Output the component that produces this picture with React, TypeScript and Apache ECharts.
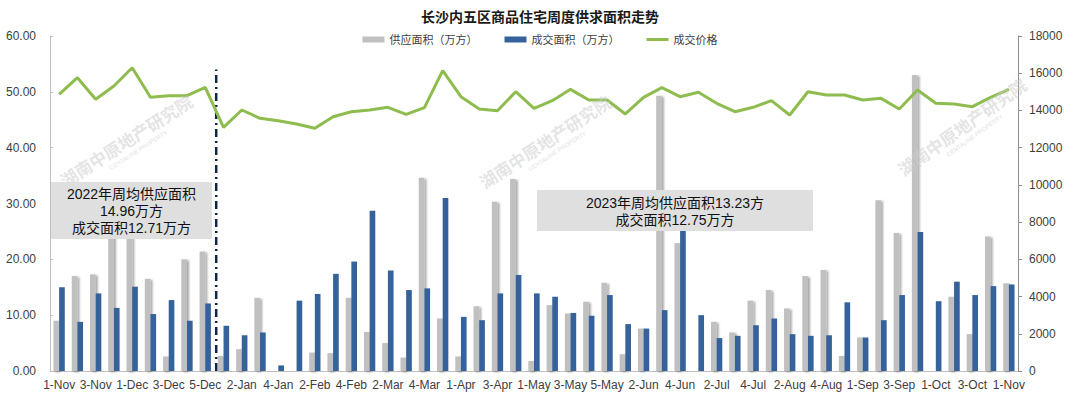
import React, { useEffect, useRef } from "react";
import * as echarts from "echarts";

const categories = [
  "1-Nov", "2-Nov", "3-Nov", "4-Nov", "1-Dec", "2-Dec", "3-Dec", "4-Dec", "5-Dec",
  "1-Jan", "2-Jan", "3-Jan", "4-Jan", "1-Feb", "2-Feb", "3-Feb", "4-Feb",
  "1-Mar", "2-Mar", "3-Mar", "4-Mar", "5-Mar", "1-Apr", "2-Apr", "3-Apr", "4-Apr",
  "1-May", "2-May", "3-May", "4-May", "5-May", "1-Jun", "2-Jun", "3-Jun", "4-Jun",
  "1-Jul", "2-Jul", "3-Jul", "4-Jul", "1-Aug", "2-Aug", "3-Aug", "4-Aug", "5-Aug",
  "1-Sep", "2-Sep", "3-Sep", "4-Sep", "1-Oct", "2-Oct", "3-Oct", "4-Oct", "1-Nov",
];

const supplyArea = [
  9.0, 17.0, 17.3, 27.5, 26.0, 16.5, 2.6, 20.0, 21.4,
  2.7, 3.9, 13.1, 0, 0, 3.3, 3.2, 13.1,
  7.0, 5.0, 2.4, 34.6, 9.4, 2.6, 11.6, 30.3, 34.4,
  1.8, 11.8, 10.3, 12.4, 15.8, 3.0, 7.6, 49.3, 22.9,
  0, 8.8, 6.9, 12.6, 14.5, 11.2, 17.0, 18.1, 2.7,
  6.0, 30.6, 24.7, 53.0, 0, 13.3, 6.6, 24.1, 15.7,
];

const dealArea = [
  15.0, 8.8, 13.9, 11.3, 15.1, 10.2, 12.7, 9.0, 12.1,
  8.1, 6.4, 6.9, 1.0, 12.6, 13.8, 17.4, 19.6,
  28.7, 18.0, 14.5, 14.8, 31.0, 9.7, 9.1, 13.9, 17.2,
  13.9, 13.3, 10.4, 9.9, 13.6, 8.4, 7.6, 10.9, 26.0,
  10.0, 5.9, 6.3, 8.2, 9.4, 6.6, 6.3, 6.4, 12.3,
  6.0, 9.1, 13.6, 24.9, 12.5, 16.0, 13.6, 15.2, 15.5,
];

const dealPrice = [
  14866, 15760, 14597, 15313, 16297, 14705, 14793, 14793, 15243,
  13094, 14024, 13578, 13449, 13271, 13040, 13664, 13932,
  14024, 14168, 13792, 14148, 16135, 14740, 14077, 13987, 15007,
  14113, 14525, 15134, 14561, 14561, 13810, 14705, 15224, 14740,
  14974, 14384, 13932, 14168, 14525, 13755, 15007, 14829, 14829,
  14561, 14650, 14077, 15098, 14384, 14346, 14201, 14705, 15134,
];

// Year divider between 2022 and 2023 weeks (position on a hidden value axis)
const dividerX = 9.1;
const dividerTop = 54;

const leftTicks = [0, 60, 10];
const rightTicks = [0, 18000, 2000];

const title = "长沙内五区商品住宅周度供求面积走势";
const seriesNames = ["供应面积（万方）", "成交面积（万方）", "成交价格"];
const note2022 = "2022年周均供应面积\n14.96万方\n成交面积12.71万方";
const note2023 = "2023年周均供应面积13.23方\n成交面积12.75万方";
const watermark = "湖南中原地产研究院";

const FONT = '"Liberation Sans", Arial, "Noto Sans CJK SC", sans-serif';

export default function App() {
  const ref = useRef<HTMLDivElement>(null);

  useEffect(() => {
    const chart = echarts.init(ref.current!, null, { renderer: "svg" });

    const wm = (cx: number, cy: number, rot: number) => ({
      type: "group",
      x: cx,
      y: cy,
      rotation: rot,
      silent: true,
      children: [
        {
          type: "text",
          x: 0,
          y: 0,
          z: 50,
          style: {
            text: watermark,
            fontSize: 17,
            fontWeight: "bold",
            fontFamily: FONT,
            fill: "rgba(205,205,205,0.55)",
            align: "center",
            verticalAlign: "middle",
          },
        },
        {
          type: "text",
          x: 5,
          y: 13,
          z: 50,
          style: {
            text: "CENTALINE PROPERTY",
            fontSize: 6,
            fontFamily: FONT,
            fill: "rgba(195,195,195,0.55)",
            align: "center",
            verticalAlign: "middle",
          },
        },
      ],
    });

    chart.setOption({
      animation: false,
      backgroundColor: "#ffffff",
      textStyle: { fontFamily: FONT },
      title: {
        text: title,
        left: "center",
        top: 5,
        textStyle: { fontSize: 14, fontWeight: "bold", color: "#1a1a1a", fontFamily: FONT },
      },
      legend: {
        top: 29,
        left: "center",
        itemWidth: 22,
        itemHeight: 6,
        itemGap: 27,
        textStyle: { fontSize: 11, color: "#404040", fontFamily: FONT },
        data: [
          { name: seriesNames[0], icon: "rect" },
          { name: seriesNames[1], icon: "rect" },
          { name: seriesNames[2], icon: "path://M0,0h22v3h-22z" },
        ],
      },
      grid: { left: 50, right: 62, top: 36, bottom: 40 },
      xAxis: [
        {
          type: "category",
          data: categories,
          boundaryGap: true,
          axisLine: { lineStyle: { color: "#bfbfbf", width: 1 } },
          axisTick: { show: false },
          axisLabel: {
            interval: 1,
            fontSize: 12,
            color: "#404040",
            margin: 8,
            fontFamily: FONT,
          },
          splitLine: { show: false },
        },
        {
          type: "value",
          min: 0,
          max: categories.length,
          show: false,
          splitLine: { show: false },
        },
      ],
      yAxis: [
        {
          type: "value",
          min: leftTicks[0],
          max: leftTicks[1],
          interval: leftTicks[2],
          axisLine: { show: true, lineStyle: { color: "#bfbfbf" } },
          axisTick: { show: true, inside: true, length: 3, lineStyle: { color: "#bfbfbf" } },
          axisLabel: {
            fontSize: 12,
            color: "#404040",
            margin: 14,
            fontFamily: FONT,
            formatter: (v: number) => v.toFixed(2),
          },
          splitLine: { show: false },
        },
        {
          type: "value",
          min: rightTicks[0],
          max: rightTicks[1],
          interval: rightTicks[2],
          position: "right",
          axisLine: { show: true, lineStyle: { color: "#8c8c8c" } },
          axisTick: { show: true, length: 4, lineStyle: { color: "#8c8c8c" } },
          axisLabel: {
            fontSize: 12,
            color: "#404040",
            margin: 11,
            fontFamily: FONT,
            formatter: (v: number) => String(v),
          },
          splitLine: { show: false },
        },
      ],
      series: [
        {
          name: seriesNames[0],
          type: "bar",
          data: supplyArea,
          barWidth: "31%",
          barGap: "0%",
          itemStyle: {
            color: "#c0c0c0",
            shadowColor: "rgba(0,0,0,0.35)",
            shadowBlur: 2,
            shadowOffsetX: 2,
            shadowOffsetY: 1,
          },
          z: 2,
        },
        {
          name: seriesNames[1],
          type: "bar",
          data: dealArea,
          barWidth: "31%",
          barGap: "0%",
          itemStyle: { color: "#35629a" },
          z: 3,
        },
        {
          name: seriesNames[2],
          type: "line",
          yAxisIndex: 1,
          data: dealPrice,
          symbol: "none",
          lineStyle: { color: "#8fbc4f", width: 3 },
          itemStyle: { color: "#8fbc4f" },
          z: 5,
        },
        {
          name: "divider",
          type: "line",
          xAxisIndex: 1,
          yAxisIndex: 0,
          data: [
            [dividerX, 0],
            [dividerX, dividerTop],
          ],
          symbol: "none",
          silent: true,
          lineStyle: { color: "#0f2744", width: 2.5, type: [8, 4, 2, 4] },
          z: 4,
        },
      ],
      graphic: [
        wm(127, 142, 0.57),
        wm(546, 143, 0.58),
        wm(963, 128, 0.62),
        {
          type: "rect",
          z: 60,
          shape: { x: 51, y: 182, width: 161, height: 57 },
          style: { fill: "#dfdfdf" },
        },
        {
          type: "text",
          z: 61,
          x: 131.5,
          y: 211,
          style: {
            text: note2022,
            fontSize: 14,
            fontFamily: FONT,
            lineHeight: 17,
            fill: "#111111",
            align: "center",
            verticalAlign: "middle",
          },
        },
        {
          type: "rect",
          z: 60,
          shape: { x: 537, y: 190, width: 276, height: 41 },
          style: { fill: "#dfdfdf" },
        },
        {
          type: "text",
          z: 61,
          x: 675,
          y: 211.5,
          style: {
            text: note2023,
            fontSize: 14,
            fontFamily: FONT,
            lineHeight: 17,
            fill: "#111111",
            align: "center",
            verticalAlign: "middle",
          },
        },
      ],
    });

    return () => chart.dispose();
  }, []);

  return (
    <div
      ref={ref}
      style={{ position: "absolute", left: 0, top: 0, width: 1080, height: 411 }}
    />
  );
}
